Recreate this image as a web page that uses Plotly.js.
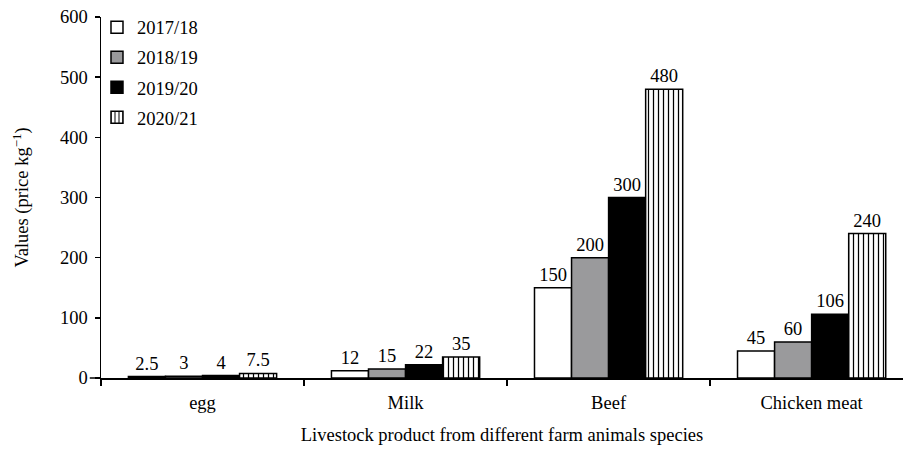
<!DOCTYPE html>
<html>
<head>
<meta charset="utf-8">
<script src="https://cdn.plot.ly/plotly-3.0.1.min.js"></script>
<style>html,body{margin:0;padding:0;background:#fff;}#chart{width:903px;height:453px;}</style>
</head>
<body>
<div id="chart"></div>
<script>
const categories = ["egg", "Milk", "Beef", "Chicken meat"];
const seriesNames = ["2017/18", "2018/19", "2019/20", "2020/21"];
const v2017 = [2.5, 12, 150, 45];
const v2018 = [3, 15, 200, 60];
const v2019 = [4, 22, 300, 106];
const v2020 = [7.5, 35, 480, 240];
const labels2017 = ["2.5", "12", "150", "45"];
const labels2018 = ["3", "15", "200", "60"];
const labels2019 = ["4", "22", "300", "106"];
const labels2020 = ["7.5", "35", "480", "240"];
const yTicks = [0, 100, 200, 300, 400, 500, 600];

const FONT = "Liberation Serif";
const FS = 18.5;
const values = [v2017, v2018, v2019, v2020];
const texts = [labels2017, labels2018, labels2019, labels2020];
const fills = ["#ffffff", "#9a9a9c", "#000000", "#ffffff"];

const traces = values.map((vals, i) => {
  const marker = { color: fills[i], line: { color: "#000000", width: 1.5 } };
  if (i === 3) {
    marker.pattern = { shape: "|", fgcolor: "#000000", bgcolor: "#ffffff", size: 5, solidity: 0.25 };
  }
  return {
    type: "bar",
    name: seriesNames[i],
    x: categories,
    y: vals,
    text: texts[i],
    textposition: "outside",
    textfont: { family: FONT, size: FS, color: "#000" },
    cliponaxis: false,
    marker: marker,
    legendgroup: "g" + i,
    hoverinfo: "skip"
  };
});

const layout = {
  width: 903,
  height: 453,
  margin: { l: 101, r: 0, t: 17, b: 75 },
  paper_bgcolor: "#ffffff",
  plot_bgcolor: "#ffffff",
  font: { family: FONT, size: FS, color: "#000" },
  barmode: "group",
  bargap: 0.27,
  bargroupgap: 0,
  showlegend: true,
  legend: {
    x: -0.005, y: 1.023, xanchor: "left", yanchor: "top",
    bgcolor: "rgba(0,0,0,0)",
    font: { family: FONT, size: FS, color: "#000" },
    traceorder: "grouped",
    tracegroupgap: 3,
    itemwidth: 30
  },
  xaxis: {
    type: "category",
    range: [-0.5, 3.45],
    showline: true,
    linecolor: "#000",
    linewidth: 1.5,
    ticks: "outside",
    tickson: "boundaries",
    ticklen: 6,
    tickwidth: 1.5,
    tickcolor: "#000",
    showgrid: false,
    zeroline: false,
    ticklabelstandoff: 7,
    tickfont: { family: FONT, size: FS, color: "#000" },
    title: { text: "Livestock product from different farm animals species", font: { family: FONT, size: FS, color: "#000" }, standoff: 16 }
  },
  yaxis: {
    range: [0, 600],
    tickvals: yTicks,
    showline: true,
    linecolor: "#000",
    linewidth: 1.5,
    ticks: "outside",
    ticklen: 5,
    tickwidth: 1.5,
    tickcolor: "#000",
    showgrid: false,
    zeroline: false,
    ticklabelstandoff: 3,
    tickfont: { family: FONT, size: FS, color: "#000" },
    title: { text: "Values (price kg<sup>\u22121</sup>)", font: { family: FONT, size: FS, color: "#000" }, standoff: 26 }
  },
  shapes: [
    { type: "line", xref: "paper", yref: "paper", x0: -0.014, x1: 0, y0: 0, y1: 0, line: { color: "#000", width: 1.5 } },
    { type: "line", xref: "paper", yref: "paper", x0: 0, x1: 0, y0: -0.017, y1: 0, line: { color: "#000", width: 1.5 } }
  ]
};

Plotly.newPlot("chart", traces, layout, { displayModeBar: false, staticPlot: true });
</script>
</body>
</html>
